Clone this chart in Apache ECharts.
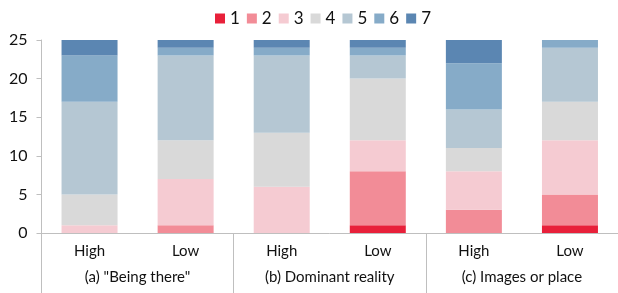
<!DOCTYPE html>
<html><head><meta charset="utf-8">
<script src="https://cdn.jsdelivr.net/npm/echarts@6/dist/echarts.min.js"></script>
<style>html,body{margin:0;padding:0;background:#fff}#c{width:618px;height:293px}</style>
</head><body><div id="c"></div>
<script>
const categories = ['High','Low','High','Low','High','Low'];
const groups = ['(a) "Being there"','(b) Dominant reality','(c) Images or place'];
const levels = ['1','2','3','4','5','6','7'];
const s1 = [0,0,0,1,0,1];
const s2 = [0,1,0,7,3,4];
const s3 = [1,6,6,4,5,7];
const s4 = [4,5,7,8,3,5];
const s5 = [12,11,10,3,5,7];
const s6 = [6,1,1,1,6,1];
const s7 = [2,1,1,1,3,0];
const yTicks = [0,5,10,15,20,25];
const colors = ['#e8203a','#f28c97','#f5cbd2','#d9d9d9','#b5c7d3','#86abc8','#5b86b2'];
const seriesData = [s1,s2,s3,s4,s5,s6,s7];
const font = 'Lato';
const chart = echarts.init(document.getElementById('c'));
chart.setOption({
  animation:false,
  textStyle:{fontFamily:font},
  legend:{top:5,left:210,itemWidth:10,itemHeight:10,itemGap:7,icon:'rect',
    textStyle:{fontSize:17,color:'#111',fontFamily:font}},
  grid:{left:41.5,top:40,width:582,height:193,containLabel:false},
  xAxis:[
    {type:'category',data:categories,position:'bottom',
     axisLine:{lineStyle:{color:'#bfbfbf'}},axisTick:{show:false},
     axisLabel:{fontSize:15,color:'#111',margin:11,fontFamily:font}},
    {type:'category',data:groups,position:'bottom',
     axisLine:{show:false},
     axisTick:{show:true,length:62,lineStyle:{color:'#bfbfbf'}},
     axisLabel:{fontSize:15,color:'#111',margin:37,fontFamily:font}}
  ],
  yAxis:{type:'value',min:yTicks[0],max:yTicks[yTicks.length-1],interval:5,
    axisLine:{show:true,lineStyle:{color:'#bfbfbf'}},
    axisTick:{show:true,length:5,lineStyle:{color:'#bfbfbf'}},
    splitLine:{show:false},
    axisLabel:{fontSize:16,color:'#111',margin:14,fontFamily:font}},
  series: levels.map((name,i)=>({
    name:name,type:'bar',stack:'t',xAxisIndex:0,barWidth:56,
    itemStyle:{color:colors[i]},data:seriesData[i]
  }))
});
</script></body></html>
